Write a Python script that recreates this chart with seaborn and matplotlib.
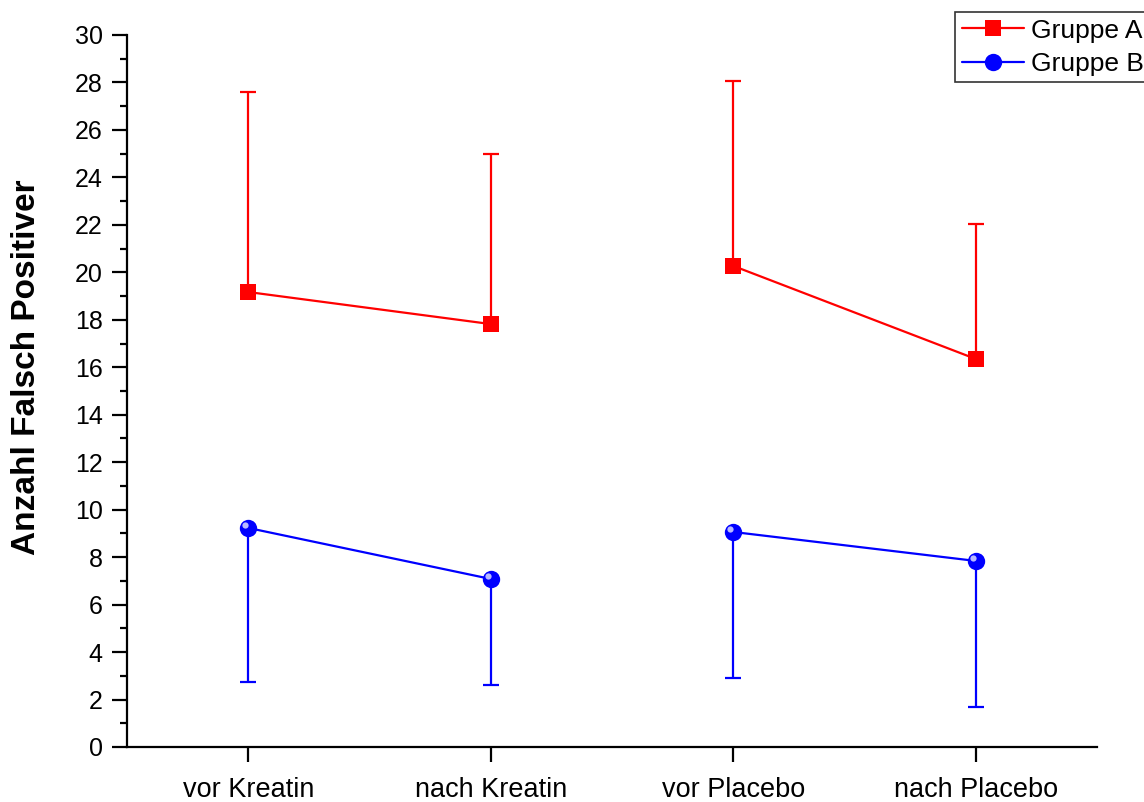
import matplotlib
matplotlib.use("Agg")
import matplotlib.pyplot as plt
import matplotlib.transforms as mtransforms
from matplotlib.lines import Line2D
from matplotlib.ticker import MultipleLocator
import numpy as np
import pandas as pd
import seaborn as sns

# Conditions on the x axis
conditions = ["vor Kreatin", "nach Kreatin", "vor Placebo", "nach Placebo"]
pairs = ["Kreatin", "Kreatin", "Placebo", "Placebo"]

# Mean number of false positives per group
gruppe_a = [19.17, 17.82, 20.27, 16.35]
gruppe_b = [9.23, 7.08, 9.06, 7.84]

# One-sided error bars: upward for group A, downward for group B
gruppe_a_err_up = [8.43, 7.18, 7.79, 5.69]
gruppe_b_err_down = [6.49, 4.47, 6.15, 6.15]

sns.set_theme(style="ticks")
plt.rcParams["font.family"] = ["Liberation Sans", "DejaVu Sans"]
plt.rcParams["text.color"] = "black"
plt.rcParams["axes.labelcolor"] = "black"

pos = np.arange(len(conditions))
df = pd.DataFrame({
    "pos": np.concatenate([pos, pos]),
    "wert": gruppe_a + gruppe_b,
    "gruppe": ["Gruppe A"] * 4 + ["Gruppe B"] * 4,
    "paar": [f"A-{p}" for p in pairs] + [f"B-{p}" for p in pairs],
})

fig = plt.figure(figsize=(11.44, 8.02), dpi=100)
ax = fig.add_axes([127 / 1144, 55 / 802, 970 / 1144, 712 / 802])

red = "#ff0000"
blue = "#0000ff"

# error bars underneath the markers
ax.errorbar(pos, gruppe_a, yerr=[np.zeros(4), gruppe_a_err_up], fmt="none",
            ecolor=red, elinewidth=1.6, capsize=5.5, capthick=1.6, zorder=2)
ax.errorbar(pos, gruppe_b, yerr=[gruppe_b_err_down, np.zeros(4)], fmt="none",
            ecolor=blue, elinewidth=1.6, capsize=5.5, capthick=1.6, zorder=2)

n_before = len(ax.lines)
sns.lineplot(data=df, x="pos", y="wert", hue="gruppe", units="paar",
             estimator=None, style="gruppe",
             markers={"Gruppe A": "s", "Gruppe B": "o"}, dashes=False,
             palette={"Gruppe A": red, "Gruppe B": blue},
             linewidth=1.6, markersize=11, markeredgewidth=0,
             legend=False, ax=ax, zorder=3)
for ln in ax.lines[n_before:]:
    ln.set_markeredgewidth(0)
    if ln.get_marker() == "o":
        ln.set_markersize(12.5)

# glossy highlight on the spheres
shift = mtransforms.ScaledTranslation(-2.2 / 72, 2.2 / 72, fig.dpi_scale_trans)
ax.plot(pos, gruppe_b, linestyle="none", marker="o", markersize=4.5,
        color="#d0d0ff", markeredgewidth=0, alpha=0.9,
        transform=ax.transData + shift, zorder=4)

ax.set_xlim(-0.5, 3.5)
ax.set_ylim(0, 30)
ax.set_xticks(pos)
ax.set_xticklabels(conditions, fontsize=19.5, color="black")
ax.yaxis.set_major_locator(MultipleLocator(2))
ax.yaxis.set_minor_locator(MultipleLocator(1))

ax.set_xlabel("")
ax.set_ylabel("Anzahl Falsch Positiver", fontsize=24, fontweight="bold", color="black")
ax.yaxis.set_label_coords(-0.0876, 0.533)

for side in ("top", "right"):
    ax.spines[side].set_visible(False)
for side in ("left", "bottom"):
    ax.spines[side].set_linewidth(1.6)
    ax.spines[side].set_color("black")

ax.tick_params(axis="both", which="major", direction="out", length=10.5,
               width=1.6, color="black", labelcolor="black")
ax.tick_params(axis="y", which="major", pad=7, labelsize=18)
ax.tick_params(axis="x", which="major", pad=11)
ax.tick_params(axis="y", which="minor", direction="out", length=5,
               width=1.6, color="black")
ax.tick_params(axis="x", which="minor", bottom=False)

handles = [
    Line2D([], [], color=red, marker="s", markersize=11, markeredgewidth=0, linewidth=1.6),
    Line2D([], [], color=blue, marker="o", markersize=12.5, markeredgewidth=0, linewidth=1.6),
]
leg = fig.legend(handles, ["Gruppe A", "Gruppe B"], loc="upper left",
                 bbox_to_anchor=(955 / 1144, 1 - 12 / 802), fontsize=19,
                 frameon=True, fancybox=False, handlelength=2.35,
                 handletextpad=0.27, borderpad=0.25, labelspacing=0.35,
                 borderaxespad=0)
leg.get_frame().set_edgecolor("black")
leg.get_frame().set_linewidth(1.2)
for t in leg.get_texts():
    t.set_color("black")

fig.savefig("out.png", dpi=100, facecolor="white")
